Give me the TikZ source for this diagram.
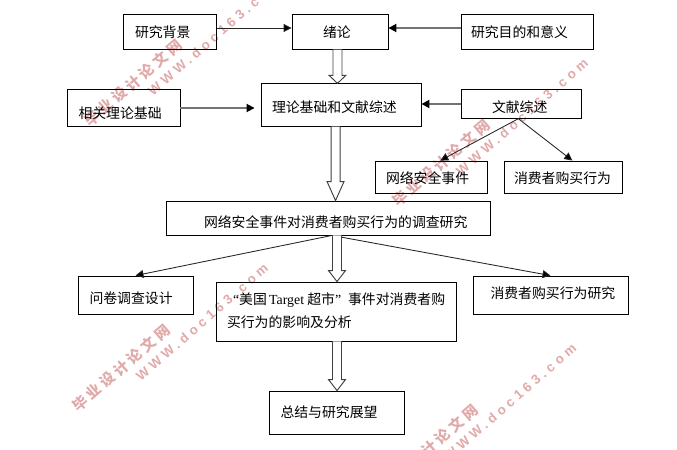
\documentclass[tikz,border=0pt]{standalone}
\usepackage{fontspec}
\usepackage{xcolor}
\usetikzlibrary{arrows.meta,calc}
\setmainfont{Noto Sans CJK SC}
\newfontfamily\latinfont{Liberation Serif}
\newfontfamily\stampcn[LetterSpace=23]{Noto Sans CJK SC}
\newfontfamily\stampen[LetterSpace=30]{Liberation Sans Bold}
\definecolor{stampred}{RGB}{224,170,170}
% text at dx,dy (pixels) from the centre of its box
\newcommand{\cell}[3]{\raisebox{\dimexpr-#2\dimexpr0.75pt\relax-3.9pt\relax}[0pt][0pt]{\makebox[0pt][l]{\hspace*{\dimexpr#1\dimexpr0.75pt\relax\relax}#3}}}
\tikzset{
	boxy/.style 2 args={draw=black, line width=0.65pt, inner sep=0pt, minimum width=#1*0.75pt, minimum height=#2*0.75pt, font=\fontsize{10.4}{12}\selectfont},
	thin arrow/.style={draw=black!85, line width=0.65pt, -{Triangle[length=6pt,width=6pt,fill=black]}},
	grey arrow/.style={draw=black!55, line width=1.3pt, -{Triangle[length=6pt,width=6pt,fill=black,color=black]}},
	hollow/.style={draw=black!75, line width=0.7pt, fill=white, to path={
		($(\tikztostart)+(-4.5,0)$) -- ($(\tikztotarget)+(-4.5,-#1)$) -- ($(\tikztotarget)+(-8.5,-#1)$) -- (\tikztotarget)
		-- ($(\tikztotarget)+(8.5,-#1)$) -- ($(\tikztotarget)+(4.5,-#1)$) -- ($(\tikztostart)+(4.5,0)$)}},
}
\begin{document}
\begin{tikzpicture}[x=0.75pt,y=-0.75pt]
	\useasboundingbox (0,0) rectangle (677,449);
	% watermark
	\foreach \mx/\my in {133/83, 441/163, 121/368, 429/448}{
		\node[rotate=41, text=stampred, font=\fontsize{11}{12}\stampcn\bfseries] (cn\mx) at (\mx,\my) {毕业设计论文网};
		\node[rotate=41, text=stampred, font=\fontsize{10}{12}\stampen] (en\mx) at (\mx+81,\my-46) {WWW.doc163.com};
	}
	% top row
	\node[boxy={93}{34.5}] (bg) at (170,32) {\cell{-35}{0}{研究背景}};
	\node[boxy={96}{34.5}] (xulun) at (340,32) {\cell{-17}{0}{绪论}};
	\node[boxy={132}{34.5}] (mudi) at (527,32) {\cell{-56}{0}{研究目的和意义}};
	% second row
	\node[boxy={113}{36.5}] (xiangguan) at (123.5,108) {\cell{-45}{5}{相关理论基础}};
	\node[boxy={160}{42.5}] (lilun) at (341,105) {\cell{-69}{2}{理论基础和文献综述}};
	\node[boxy={120}{28.5}] (wenxian) at (521,104) {\cell{-29}{3}{文献综述}};
	\node[boxy={112}{32}] (wangluo) at (431,177) {\cell{-45}{1}{网络安全事件}};
	\node[boxy={118}{32}] (goumai) at (563,177) {\cell{-49}{1}{消费者购买行为}};
	% middle
	\node[boxy={324}{34}] (diaocha) at (328,218) {\cell{-124}{4}{网络安全事件对消费者购买行为的调查研究}};
	% lower row
	\node[boxy={115}{38}] (wenjuan) at (135.5,295) {\cell{-46}{3}{问卷调查设计}};
	\node[boxy={240}{59}] (target) at (336,311.5) {\cell{-103}{-12}{{\latinfont “}美国\,{\latinfont Target} 超市{\latinfont ”}\,\,\,事件对消费者购}\cell{-109}{11}{买行为的影响及分析}};
	\node[boxy={155}{38}] (yanjiu) at (550.5,295) {\cell{-60}{-2}{消费者购买行为研究}};
	\node[boxy={135}{43}] (zongjie) at (336.5,412.5) {\cell{-56}{0}{总结与研究展望}};
	% connectors
	\draw[thin arrow] ([yshift=3pt]bg.east) -- ([yshift=3pt]xulun.west);
	\draw[grey arrow] ([yshift=3pt]mudi.west) -- ([yshift=3pt]xulun.east);
	\draw[grey arrow, shorten >=4.5pt] (xiangguan.east) -- (xiangguan.east -| lilun.west);
	\draw[grey arrow] (wenxian.west) -- (wenxian.west -| lilun.east);
	\draw[thin arrow] ([xshift=-2pt]wenxian.south) -- ([xshift=7pt]wangluo.north);
	\draw[thin arrow] ([xshift=-2pt]wenxian.south) -- ([xshift=7pt]goumai.north);
	\draw[thin arrow] ([xshift=3pt]diaocha.south) -- (wenjuan.north);
	\draw[thin arrow] ([xshift=3pt]diaocha.south) -- (yanjiu.north);
	% hollow arrows
	\draw[hollow=8] ([xshift=-1.9pt]xulun.south) to ([xshift=-1.9pt]xulun.south |- lilun.north);
	\draw[hollow=19] ([xshift=-4.1pt]lilun.south) to ([xshift=-4.1pt]lilun.south |- diaocha.north);
	\draw[hollow=11] ([xshift=6.75pt]diaocha.south) to ([xshift=6.75pt]diaocha.south |- target.north);
	\draw[hollow=11] ([xshift=0.75pt]target.south) to ([xshift=0.75pt]target.south |- zongjie.north);
\end{tikzpicture}
\end{document}
